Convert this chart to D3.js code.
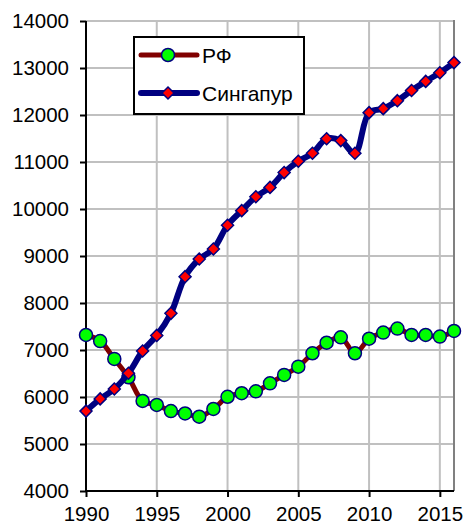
<!DOCTYPE html>
<html>
<head>
<meta charset="utf-8">
<script src="https://cdn.jsdelivr.net/npm/d3@7"></script>
<style>
  html, body { margin: 0; padding: 0; background: #fff; }
  svg { display: block; font-family: Arial, "Liberation Sans", sans-serif; }
</style>
</head>
<body>
<svg id="chart" width="467" height="527"></svg>
<script>
// Years on the horizontal axis
const years = d3.range(1990, 2017);

// Series values
const rfValues = [7320, 7190, 6810, 6420, 5915, 5830, 5700, 5650, 5580, 5745,
                  6005, 6080, 6120, 6290, 6470, 6645, 6930, 7155, 7270, 6930,
                  7240, 7370, 7455, 7320, 7320, 7285, 7405];
const sgValues = [5700, 5960, 6170, 6505, 6980, 7310, 7780, 8560, 8935, 9150,
                  9655, 9965, 10260, 10460, 10775, 11015, 11185, 11495, 11455, 11185,
                  12050, 12135, 12305, 12520, 12715, 12900, 13115];

const seriesNames = ["РФ", "Сингапур"];

// Tick labels
const yTicks = d3.range(4000, 14001, 1000);
const xTicks = [1990, 1995, 2000, 2005, 2010, 2015];

const svg = d3.select("#chart");
const plotLeft = 86, plotRight = 454, plotTop = 21, plotBottom = 491;

const x = d3.scaleLinear().domain([1990, 2016]).range([plotLeft, plotRight]);
const y = d3.scaleLinear().domain([4000, 14000]).range([plotBottom, plotTop]);

// Grid
const grid = svg.append("g");
grid.selectAll("line.h").data(yTicks.slice(1)).join("line")
  .attr("x1", plotLeft).attr("x2", plotRight)
  .attr("y1", d => y(d)).attr("y2", d => y(d))
  .attr("stroke", "#c0c0c0").attr("stroke-width", 2);
grid.selectAll("line.v").data(xTicks.slice(1)).join("line")
  .attr("x1", d => x(d)).attr("x2", d => x(d))
  .attr("y1", plotTop).attr("y2", plotBottom)
  .attr("stroke", "#c0c0c0").attr("stroke-width", 2);
// Right frame edge
svg.append("line")
  .attr("x1", plotRight).attr("x2", plotRight).attr("y1", plotTop - 1).attr("y2", plotBottom)
  .attr("stroke", "#808080").attr("stroke-width", 2);

// Axes
const yAxis = d3.axisLeft(y).tickValues(yTicks).tickSize(6).tickPadding(11).tickFormat(d3.format("d"));
const xAxis = d3.axisBottom(x).tickValues(xTicks).tickSize(6).tickPadding(9).tickFormat(d3.format("d"));

const gy = svg.append("g").attr("transform", `translate(${plotLeft},0)`).call(yAxis);
const gx = svg.append("g").attr("transform", `translate(0,${plotBottom})`).call(xAxis);
[gx, gy].forEach(g => {
  g.select(".domain").attr("stroke", "#000").attr("stroke-width", 2);
  g.selectAll(".tick line").attr("stroke", "#000").attr("stroke-width", 2);
  g.selectAll(".tick text").attr("fill", "#000").attr("font-size", 20.5)
    .attr("font-family", "Arial, 'Liberation Sans', sans-serif");
});
gx.select(".domain").attr("d", `M${plotLeft},0H${plotRight}`);
gy.select(".domain").attr("d", `M0,${plotBottom}V${plotTop}`);

// Lines and markers
const curve = d3.curveCatmullRom.alpha(0.5);
const line = d3.line().x((d, i) => x(years[i])).y(d => y(d)).curve(curve);

const diamond = (cx, cy, r) => `M${cx},${cy - r}L${cx + r},${cy}L${cx},${cy + r}L${cx - r},${cy}Z`;

// RF
svg.append("path").datum(rfValues).attr("d", line)
  .attr("fill", "none").attr("stroke", "#800000").attr("stroke-width", 5)
  .attr("stroke-linejoin", "round");
svg.append("g").selectAll("circle").data(rfValues).join("circle")
  .attr("cx", (d, i) => x(years[i])).attr("cy", d => y(d)).attr("r", 6.5)
  .attr("fill", "#00ff00").attr("stroke", "#000080").attr("stroke-width", 1.5);

// Singapore
svg.append("path").datum(sgValues).attr("d", line)
  .attr("fill", "none").attr("stroke", "#000080").attr("stroke-width", 6)
  .attr("stroke-linejoin", "round");
svg.append("g").selectAll("path").data(sgValues).join("path")
  .attr("d", (d, i) => diamond(x(years[i]), y(d), 6))
  .attr("fill", "#ff0000").attr("stroke", "#000080").attr("stroke-width", 1.5);

// Legend
const lg = svg.append("g");
lg.append("rect").attr("x", 134).attr("y", 37).attr("width", 170).attr("height", 77)
  .attr("fill", "#fff").attr("stroke", "#000").attr("stroke-width", 2);
const rows = [55, 93];
lg.append("line").attr("x1", 141).attr("x2", 197).attr("y1", rows[0]).attr("y2", rows[0])
  .attr("stroke", "#800000").attr("stroke-width", 5).attr("stroke-linecap", "round");
lg.append("circle").attr("cx", 168).attr("cy", rows[0]).attr("r", 6.5)
  .attr("fill", "#00ff00").attr("stroke", "#000080").attr("stroke-width", 1.5);
lg.append("line").attr("x1", 141).attr("x2", 197).attr("y1", rows[1]).attr("y2", rows[1])
  .attr("stroke", "#000080").attr("stroke-width", 6).attr("stroke-linecap", "round");
lg.append("path").attr("d", diamond(168, rows[1], 6))
  .attr("fill", "#ff0000").attr("stroke", "#000080").attr("stroke-width", 1.5);
lg.selectAll("text").data(seriesNames).join("text")
  .attr("x", 202).attr("y", (d, i) => rows[i]).attr("dy", "0.36em")
  .attr("font-size", 21).attr("fill", "#000").text(d => d);
</script>
</body>
</html>
